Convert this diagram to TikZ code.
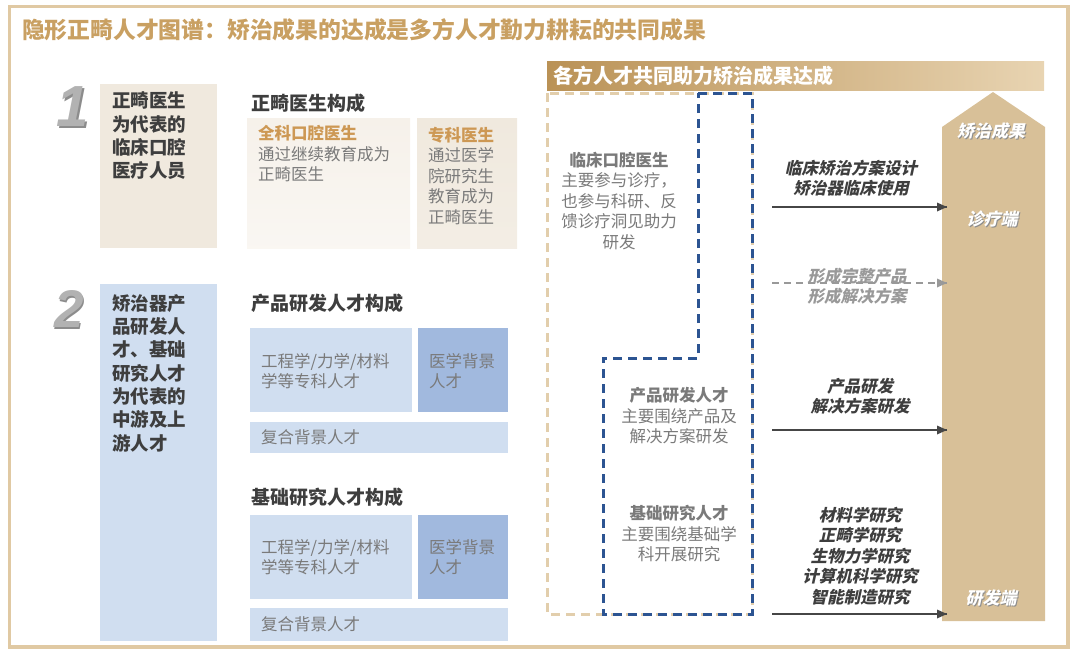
\documentclass[tikz,border=0pt]{standalone}
\usepackage{fontspec}
\setmainfont{Noto Sans CJK SC}
\newfontfamily\slfont{Noto Sans CJK SC}[FakeSlant=0.22]
\newfontfamily\numfont{Liberation Sans}
\usepackage{tikz}
\usepackage{xcolor}

\definecolor{frametan}{RGB}{224,201,163}
\definecolor{titletan}{RGB}{201,160,98}
\definecolor{darktxt}{RGB}{62,62,62}
\definecolor{graytxt}{RGB}{122,122,122}
\definecolor{lbltan}{RGB}{205,152,84}
\definecolor{beigeA}{RGB}{240,233,222}
\definecolor{creamA}{RGB}{246,241,234}
\definecolor{blueA}{RGB}{208,222,240}
\definecolor{blueB}{RGB}{161,185,222}
\definecolor{bannerL}{RGB}{186,146,86}
\definecolor{bannerR}{RGB}{232,212,178}
\definecolor{dashtan}{RGB}{226,206,172}
\definecolor{dashblue}{RGB}{44,84,146}
\definecolor{arrowtan}{RGB}{216,192,152}
\definecolor{linegray}{RGB}{70,70,70}
\definecolor{numgray}{RGB}{178,178,178}

\begin{document}
\begin{tikzpicture}[x=1pt,y=-1pt,
  head/.style={anchor=west,font=\fontsize{19}{23}\selectfont\bfseries,text=darktxt},
  lead/.style={anchor=west,align=left,font=\fontsize{18.5}{23.3}\selectfont\bfseries,text=darktxt},
  sub/.style={anchor=west,align=left,font=\fontsize{16.5}{20.5}\selectfont,text=graytxt},
  mid/.style={align=center,font=\fontsize{16.5}{20.5}\selectfont,text=graytxt},
  res/.style={align=center,font=\fontsize{16.5}{20.5}\slfont\bfseries,text=darktxt},
  endlbl/.style={font=\fontsize{17}{20}\slfont\bfseries,text=white},
  endshd/.style={font=\fontsize{17}{20}\slfont\bfseries,text=black!45},
  numlbl/.style={font=\numfont\bfseries\itshape,text=numgray}]
\tikzstyle{every node}+=[inner sep=0pt]
\useasboundingbox (0,0) rectangle (1080,659);
\draw [frametan, line width=3.5] (9.5,6.5) rectangle (1068,647);
\node (title) [anchor=west, font=\fontsize{22.8}{26}\selectfont\bfseries, text=titletan] at (22,30) {隐形正畸人才图谱：矫治成果的达成是多方人才勤力耕耘的共同成果};

\node (num1s) [numlbl, font=\fontsize{58}{58}\numfont\bfseries\itshape, text=black!45] at (74.5,108.5) {1};
\node (num1) [numlbl, font=\fontsize{58}{58}\numfont\bfseries\itshape] at (73,107) {1};
\fill [beigeA] (100,84) rectangle (217,248);
\node (doc) [lead] at (112,136) {正畸医生\\为代表的\\临床口腔\\医疗人员};
\node (dochead) [head] at (251,103) {正畸医生构成};
\shade [top color=creamA, bottom color=creamA!60] (247,118) rectangle (410,248);
\node (gen) [sub] at (258,154) {\textcolor{lbltan}{\bfseries 全科口腔医生}\\通过继续教育成为\\正畸医生};
\shade [top color=beigeA, bottom color=beigeA!80] (417,118) rectangle (517,248);
\node (spec) [sub] at (428,176) {\textcolor{lbltan}{\bfseries 专科医生}\\通过医学\\院研究生\\教育成为\\正畸医生};

\node (num2s) [numlbl, font=\fontsize{53}{53}\numfont\bfseries\itshape, text=black!45] at (70.5,310.5) {2};
\node (num2) [numlbl, font=\fontsize{53}{53}\numfont\bfseries\itshape] at (69,309) {2};
\fill [blueA] (100,284) rectangle (217,641);
\node (rd) [lead] at (112,373) {矫治器产\\品研发人\\才、基础\\研究人才\\为代表的\\中游及上\\游人才};

\node (prodhead) [head] at (251,303) {产品研发人才构成};
\fill [blueA] (250,328) rectangle (412,412);
\node (prodeng) [sub] at (261,371) {工程学/力学/材料\\学等专科人才};
\fill [blueB] (418,328) rectangle (508,412);
\node (prodmed) [sub] at (429,371) {医学背景\\人才};
\fill [blueA] (250,422) rectangle (508,453);
\node (prodmix) [sub] at (261,437) {复合背景人才};

\node (bashead) [head] at (251,497) {基础研究人才构成};
\fill [blueA] (250,515) rectangle (412,599);
\node (baseng) [sub] at (261,557) {工程学/力学/材料\\学等专科人才};
\fill [blueB] (418,515) rectangle (508,599);
\node (basmed) [sub] at (429,557) {医学背景\\人才};
\fill [blueA] (250,608) rectangle (508,641);
\node (basmix) [sub] at (261,624) {复合背景人才};

\shade [left color=bannerL, right color=bannerR] (547,61) rectangle (1044,90);
\node (banner) [anchor=west, font=\fontsize{20}{23}\selectfont\bfseries, text=white] at (553,76) {各方人才共同助力矫治成果达成};
\draw [dashtan, line width=3, dash pattern=on 9 off 6] (547,93) rectangle (752,614);
\draw [dashblue, line width=3, dash pattern=on 9 off 6] (698,93) -- (752,93) -- (752,614) -- (603,614) -- (603,358) -- (698,358) -- cycle;
\node (clin) [mid] at (619,201) {\textbf{临床口腔医生}\\主要参与诊疗，\\也参与科研、反\\馈诊疗洞见助力\\研发};
\node (prod) [mid] at (679,416) {\textbf{产品研发人才}\\主要围绕产品及\\解决方案研发};
\node (bas) [mid] at (679,534) {\textbf{基础研究人才}\\主要围绕基础学\\科开展研究};

\fill [arrowtan] (942,621) -- (942,127) -- (993,92) -- (1045,127) -- (1045,621) -- cycle;
\node (goals) [endshd] at (992.2,132.2) {矫治成果};
\node (goal) [endlbl] at (991,131) {矫治成果};
\node (clinends) [endshd] at (993.2,220.2) {诊疗端};
\node (clinend) [endlbl] at (992,219) {诊疗端};
\node (rdends) [endshd] at (992.2,599.2) {研发端};
\node (rdend) [endlbl] at (991,598) {研发端};

\coordinate (s1) at (772,207);
\coordinate (e1) at (947,207);
\coordinate (s2) at (772,283);
\coordinate (e2) at (947,283);
\coordinate (s3) at (772,430);
\coordinate (e3) at (947,430);
\coordinate (s4) at (772,614);
\coordinate (e4) at (947,614);
\draw [linegray, line width=1.6] (s1) -- (e1);
\fill [linegray] (e1) -- ++(-10,-4.5) -- ++(0,9) -- cycle;
\draw [black!40, line width=1.6, dash pattern=on 7 off 5] (s2) -- (e2);
\fill [black!40] (e2) -- ++(-10,-4.5) -- ++(0,9) -- cycle;
\draw [linegray, line width=1.6] (s3) -- (e3);
\fill [linegray] (e3) -- ++(-10,-4.5) -- ++(0,9) -- cycle;
\draw [linegray, line width=1.6] (s4) -- (e4);
\fill [linegray] (e4) -- ++(-10,-4.5) -- ++(0,9) -- cycle;
\node (clinwork) [res] at (851,178) {临床矫治方案设计\\矫治器临床使用};
\node (solwork) [res, text=black!40] at (857,286) {形成完整产品\\形成解决方案};
\node (prodwork) [res] at (860,396) {产品研发\\解决方案研发};
\node (baswork) [res] at (860,556) {材料学研究\\正畸学研究\\生物力学研究\\计算机科学研究\\智能制造研究};
\end{tikzpicture}
\end{document}
